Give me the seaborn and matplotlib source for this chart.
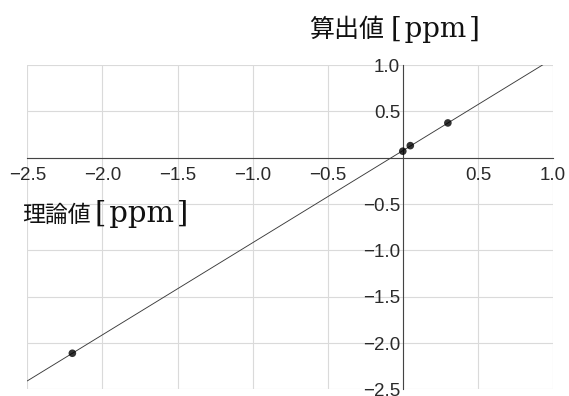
import numpy as np
import pandas as pd
import matplotlib
matplotlib.use("Agg")
import matplotlib.pyplot as plt
import seaborn as sns

# data
theory = [-2.20, 0.00, 0.05, 0.30]        # 理論値 [ppm]
calculated = [-2.11, 0.07, 0.13, 0.375]   # 算出値 [ppm]
xticks = [-2.5, -2.0, -1.5, -1.0, -0.5, 0.0, 0.5, 1.0]
yticks = [-2.5, -2.0, -1.5, -1.0, -0.5, 0.0, 0.5, 1.0]
xticklabels = ["\u22122.5", "\u22122.0", "\u22121.5", "\u22121.0", "\u22120.5", "", "0.5", "1.0"]
yticklabels = ["\u22122.5", "\u22122.0", "\u22121.5", "\u22121.0", "\u22120.5", "", "0.5", "1.0"]
xlabel_jp = "理論値"
ylabel_jp = "算出値"
unit = "[\u200appm\u200a]"

df = pd.DataFrame({"theory": theory, "calculated": calculated})

sns.set_style("white")
plt.rcParams["font.family"] = ["Liberation Sans", "DejaVu Sans"]

fig = plt.figure(figsize=(5.69, 3.96), dpi=100)
W, H = 569, 396
ax = fig.add_axes([27.3 / W, 1 - 389.4 / H, (553 - 27.3) / W, (389.4 - 65) / H])

ax.set_xlim(-2.5, 1.0)
ax.set_ylim(-2.5, 1.0)

sns.regplot(data=df, x="theory", y="calculated", ax=ax, ci=None, truncate=False,
            scatter_kws=dict(s=30, color="black", edgecolor="none", zorder=6, clip_on=False),
            line_kws=dict(color="#3a3a3a", lw=0.65, zorder=5))

ax.set_xlim(-2.5, 1.0)
ax.set_ylim(-2.5, 1.0)

ax.set_xticks(xticks)
ax.set_xticklabels(xticklabels)
ax.set_yticks(yticks)
ax.set_yticklabels(yticklabels)
ax.set_xticks(np.arange(-25, 11) / 10, minor=True)
ax.set_yticks(np.arange(-25, 11) / 10, minor=True)
ax.set_xlabel("")
ax.set_ylabel("")

ax.grid(True, which="major", color="#dadada", lw=0.8)
ax.set_axisbelow(True)

for s in ["top", "right"]:
    ax.spines[s].set_visible(False)
ax.spines["left"].set_position(("data", 0))
ax.spines["bottom"].set_position(("data", 0))
for s in ["left", "bottom"]:
    ax.spines[s].set_color("#444444")
    ax.spines[s].set_linewidth(0.8)
    ax.spines[s].set_zorder(4)

ax.tick_params(which="major", direction="in", length=3, width=0.7, color="#444444",
               labelsize=13.5, labelcolor="#2a2a2a")
ax.tick_params(which="minor", direction="in", length=1.8, width=0.6, color="#666666")
ax.tick_params(axis="x", which="major", pad=7)
ax.tick_params(axis="y", which="major", pad=2)

# axis labels placed as in the original
fig.text(309 / W, 1 - 37 / H, ylabel_jp, family=["Noto Sans CJK JP", "DejaVu Sans"],
         fontsize=18, ha="left", va="baseline", color="#111111")
fig.text(391 / W, 1 - 37 / H, unit, family=["DejaVu Serif", "DejaVu Sans"],
         fontsize=20, ha="left", va="baseline", color="#111111")
fig.text(22 / W, 1 - 222 / H, xlabel_jp, family=["Noto Sans CJK JP", "DejaVu Sans"],
         fontsize=16.5, ha="left", va="baseline", color="#111111")
fig.text(95 / W, 1 - 222 / H, unit, family=["DejaVu Serif", "DejaVu Sans"],
         fontsize=21, ha="left", va="baseline", color="#111111")

fig.savefig("out.png", dpi=100)
